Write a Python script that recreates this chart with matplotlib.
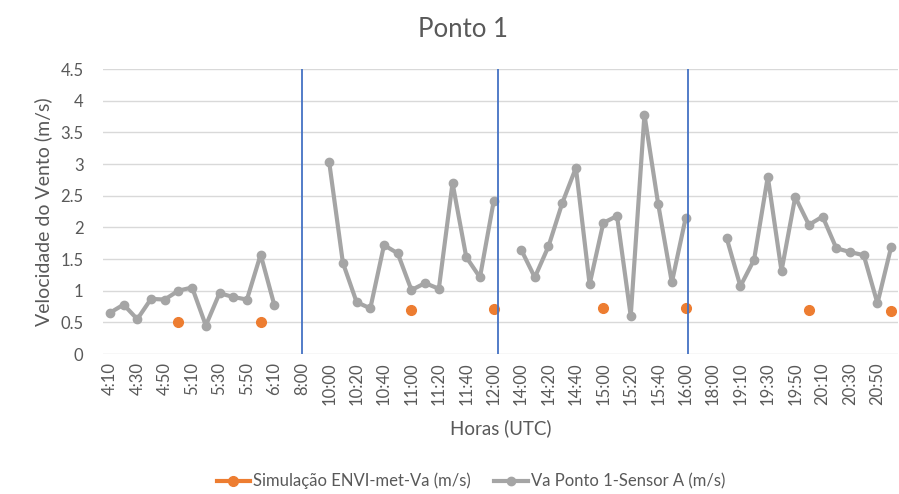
import numpy as np
import matplotlib.pyplot as plt

# Categories (10 min steps, with one empty hour between blocks)
horas = ["4:10", "4:20", "4:30", "4:40", "4:50", "5:00", "5:10", "5:20", "5:30", "5:40", "5:50", "6:00", "6:10",
         "7:00", "8:00", "9:00",
         "10:00", "10:10", "10:20", "10:30", "10:40", "10:50", "11:00", "11:10", "11:20", "11:30", "11:40", "11:50", "12:00",
         "13:00",
         "14:00", "14:10", "14:20", "14:30", "14:40", "14:50", "15:00", "15:10", "15:20", "15:30", "15:40", "15:50", "16:00",
         "17:00", "18:00",
         "19:00", "19:10", "19:20", "19:30", "19:40", "19:50", "20:00", "20:10", "20:20", "20:30", "20:40", "20:50", "21:00"]

# Measured wind speed, sensor A (None = no reading)
sensor_a = [0.65, 0.78, 0.55, 0.87, 0.86, 1.00, 1.05, 0.45, 0.96, 0.90, 0.86, 1.57, 0.77,
            None, None, None,
            3.03, 1.44, 0.82, 0.72, 1.72, 1.59, 1.01, 1.12, 1.03, 2.70, 1.53, 1.21, 2.41,
            None,
            1.65, 1.21, 1.70, 2.38, 2.94, 1.10, 2.07, 2.18, 0.60, 3.78, 2.37, 1.13, 2.14,
            None, None,
            1.83, 1.07, 1.49, 2.80, 1.31, 2.48, 2.04, 2.17, 1.67, 1.61, 1.56, 0.80, 1.69]

# ENVI-met simulation, hourly values
sim_horas = ["5:00", "6:00", "11:00", "12:00", "15:00", "16:00", "20:00", "21:00"]
sim_vals = [0.50, 0.50, 0.70, 0.71, 0.72, 0.72, 0.70, 0.68]

# vertical separators between measuring periods
separadores = ["8:00", "12:00", "16:00"]
sep_offset = [0.0, 0.35, 0.2]

text_col = "#595959"
plt.rcParams['font.family'] = ['Lato', 'DejaVu Sans']

x = np.arange(len(horas))
y_sensor = np.array([np.nan if v is None else v for v in sensor_a])
y_sim = np.full(len(horas), np.nan)
for h, v in zip(sim_horas, sim_vals):
    y_sim[horas.index(h)] = v

fig = plt.figure(figsize=(8.99, 4.94), dpi=100)
ax = fig.add_axes([0.1146, 0.2834, 0.8843, 0.5769])

ax.plot(x, y_sim, color="#ED7D31", lw=3, marker="o", ms=7, zorder=3,
        label="Simulação ENVI-met-Va (m/s)")
ax.plot(x, y_sensor, color="#A5A5A5", lw=3, marker="o", ms=6, zorder=2,
        label="Va Ponto 1-Sensor A (m/s)")

for s, off in zip(separadores, sep_offset):
    ax.axvline(horas.index(s) + off, color="#4472C4", lw=1.3, zorder=4)

ax.set_xlim(-0.5, len(horas) - 0.5)
ax.set_ylim(0, 4.5)
ax.set_yticks(np.arange(0, 4.51, 0.5))
ax.set_yticklabels(["0", "0.5", "1", "1.5", "2", "2.5", "3", "3.5", "4", "4.5"])
ax.set_xticks(x[::2])
ax.set_xticklabels(horas[::2], rotation=90)
ax.grid(axis="y", color="#D9D9D9", lw=1)
ax.set_axisbelow(True)
for sp in ax.spines.values():
    sp.set_visible(False)
ax.tick_params(length=0, colors=text_col, labelsize=12)
ax.tick_params(axis="y", pad=14)
ax.tick_params(axis="x", pad=6)

fig.text(0.515, 0.94, "Ponto 1", fontsize=18.5, color=text_col, ha="center", va="center")
ax.set_ylabel("Velocidade do Vento (m/s)", fontsize=14, color=text_col, labelpad=6)
ax.set_xlabel("Horas (UTC)", fontsize=13.5, color=text_col, labelpad=10)

fig.legend(loc="center", bbox_to_anchor=(0.524, 0.026), ncol=2, frameon=False,
           fontsize=12, labelcolor=text_col, handlelength=2, handletextpad=0.2,
           columnspacing=1.4)

fig.savefig("out.png", dpi=100)
